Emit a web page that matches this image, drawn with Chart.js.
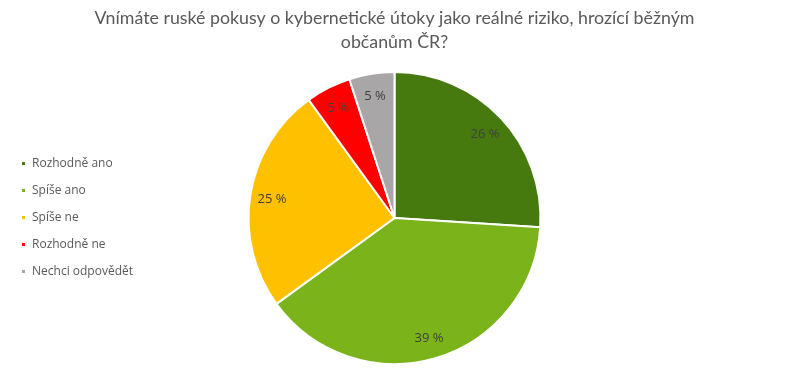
<!DOCTYPE html>
<html>
<head>
<meta charset="utf-8">
<script src="https://cdn.jsdelivr.net/npm/chart.js@4"></script>
<style>
  html, body { margin: 0; padding: 0; background: #fff; }
  #wrap { width: 785px; height: 381px; }
</style>
</head>
<body>
<div id="wrap"><canvas id="chart" width="785" height="381"></canvas></div>
<script>
// Chart data
const titleLines = ['Vnímáte ruské pokusy o kybernetické útoky jako reálné riziko, hrozící běžným', 'občanům ČR?'];
const categories = ['Rozhodně ano', 'Spíše ano', 'Spíše ne', 'Rozhodně ne', 'Nechci odpovědět'];
const shares = [26, 39, 25, 5, 5];
const sliceColors = ['#467A0F', '#7AB31A', '#FFC000', '#FF0000', '#A9A6A8'];

// Draw the "xx %" labels inside each slice
const sliceLabels = {
    id: 'sliceLabels',
    afterDatasetsDraw(chart) {
        const ctx = chart.ctx;
        const meta = chart.getDatasetMeta(0);
        ctx.save();
        ctx.font = '13px "Open Sans", sans-serif';
        ctx.fillStyle = '#404040';
        ctx.textAlign = 'center';
        ctx.textBaseline = 'middle';
        meta.data.forEach((arc, i) => {
            const p = arc.getProps(['x', 'y', 'startAngle', 'endAngle', 'outerRadius'], true);
            const mid = (p.startAngle + p.endAngle) / 2;
            const r = p.outerRadius * 0.85;
            ctx.fillText(shares[i] + ' %', p.x + Math.cos(mid) * r, p.y + Math.sin(mid) * r + 1);
        });
        ctx.restore();
    }
};

new Chart(document.getElementById('chart'), {
    type: 'pie',
    data: {
        labels: categories,
        datasets: [{
            data: shares,
            backgroundColor: sliceColors,
            borderColor: '#ffffff',
            borderWidth: 2
        }]
    },
    options: {
        responsive: false,
        animation: false,
        layout: {
            padding: { left: 6, right: 2, top: 0, bottom: 16 }
        },
        plugins: {
            title: {
                display: true,
                text: titleLines,
                color: '#595959',
                font: { family: 'Lato, sans-serif', size: 17.8, weight: 'normal', lineHeight: 1.35 },
                padding: { top: 6, bottom: 17 }
            },
            legend: {
                position: 'chartArea',
                align: 'center',
                title: {
                    display: true,
                    text: '',
                    font: { size: 12, lineHeight: 1 },
                    padding: { top: 129, bottom: 0 }
                },
                labels: {
                    boxWidth: 5,
                    boxHeight: 5,
                    padding: 15,
                    color: '#595959',
                    font: { family: '"Open Sans", sans-serif', size: 12 }
                }
            },
            tooltip: { enabled: false }
        }
    },
    plugins: [sliceLabels]
});
</script>
</body>
</html>
